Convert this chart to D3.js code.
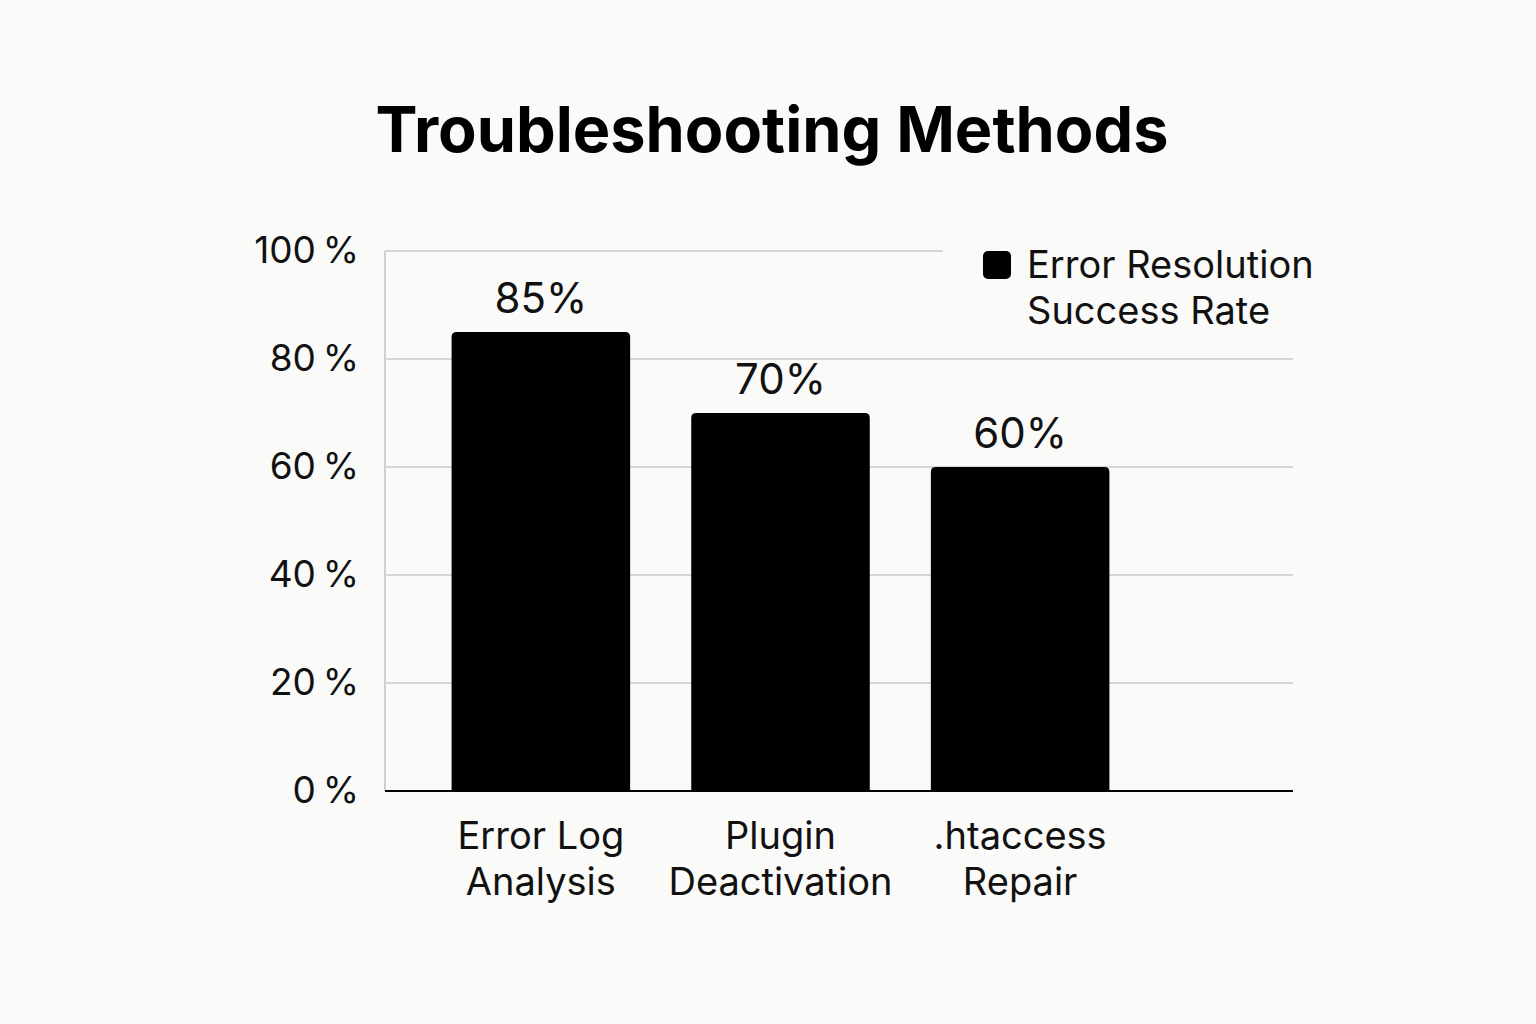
<!DOCTYPE html>
<html><head><meta charset="utf-8">
<script src="https://cdn.jsdelivr.net/npm/d3@7"></script>
<style>html,body{margin:0;padding:0;background:#fafaf8;}svg{display:block;}</style>
</head><body>
<script>
const categories = [["Error Log","Analysis"],["Plugin","Deactivation"],[".htaccess","Repair"]];
const values = [85, 70, 60];
const valueLabels = ["85%","70%","60%"];
const yTicks = [0, 20, 40, 60, 80, 100];
const yTickLabels = ["0\u2009%","20\u2009%","40\u2009%","60\u2009%","80\u2009%","100\u2009%"];
const titleText = "Troubleshooting Methods";
const legendLines = ["Error Resolution","Success Rate"];

const W = 1536, H = 1024;
const font = "Inter, 'Noto Sans', 'Liberation Sans', sans-serif";
const svg = d3.select("body").append("svg").attr("width", W).attr("height", H);
svg.append("rect").attr("width", W).attr("height", H).attr("fill", "#fafaf8");

const x0 = 385, x1 = 1293, yTop = 251, yBot = 791;
const y = d3.scaleLinear().domain([0, 100]).range([yBot, yTop]);
const x = d3.scaleBand().domain(d3.range(categories.length)).range([421, 1140]).paddingInner(0.255).paddingOuter(0.1277);

svg.append("text").attr("x", 772).attr("y", 152).attr("text-anchor", "middle")
  .attr("font-family", font).attr("font-weight", 700).attr("font-size", 63).attr("fill", "#000").text(titleText);

// gridlines
const grid = svg.append("g");
yTicks.filter(t => t > 0).forEach(t => {
  grid.append("line").attr("x1", x0).attr("x2", t === 100 ? 943 : x1)
    .attr("y1", y(t)).attr("y2", y(t)).attr("stroke", "#d6d6d6").attr("stroke-width", 2);
});
// y axis line
svg.append("line").attr("x1", x0).attr("x2", x0).attr("y1", yTop).attr("y2", yBot).attr("stroke", "#cfcfcf").attr("stroke-width", 2);

// y tick labels
const yAxis = d3.axisLeft(y).tickValues(yTicks).tickSize(0).tickPadding(26).tickFormat((d,i) => yTickLabels[i]);
const ga = svg.append("g").attr("transform", `translate(${x0},0)`).call(yAxis);
ga.select(".domain").remove();
ga.selectAll("text").attr("font-family", font).attr("font-size", 37).attr("fill", "#111");

// bars with rounded top
const r = 5;
values.forEach((v, i) => {
  const bx = x(i), bw = x.bandwidth(), by = y(v), bh = yBot - by;
  const p = `M${bx},${yBot} L${bx},${by + r} Q${bx},${by} ${bx + r},${by} L${bx + bw - r},${by} Q${bx + bw},${by} ${bx + bw},${by + r} L${bx + bw},${yBot} Z`;
  svg.append("path").attr("d", p).attr("fill", "#000");
  svg.append("text").attr("x", bx + bw / 2).attr("y", by - 19).attr("text-anchor", "middle")
    .attr("font-family", font).attr("font-size", 42).attr("fill", "#111").text(valueLabels[i]);
  categories[i].forEach((line, j) => {
    svg.append("text").attr("x", bx + bw / 2).attr("y", 849 + j * 46).attr("text-anchor", "middle")
      .attr("font-family", font).attr("font-size", 38).attr("fill", "#111").text(line);
  });
});

// baseline
svg.append("line").attr("x1", x0).attr("x2", x1).attr("y1", yBot).attr("y2", yBot).attr("stroke", "#000").attr("stroke-width", 2);

// legend
svg.append("rect").attr("x", 983).attr("y", 251).attr("width", 28).attr("height", 28).attr("rx", 5).attr("fill", "#000");
legendLines.forEach((t, j) => {
  svg.append("text").attr("x", 1027).attr("y", 278 + j * 46).attr("font-family", font).attr("font-size", 38).attr("fill", "#111").text(t);
});
</script>
</body></html>
